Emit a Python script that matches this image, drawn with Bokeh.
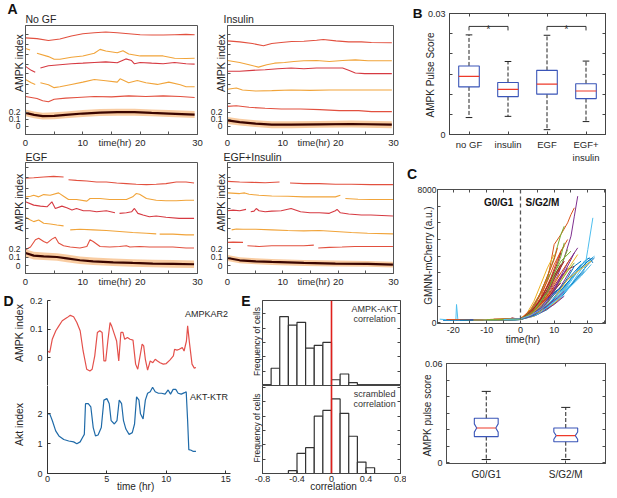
import numpy as np
from bokeh.plotting import figure
from bokeh.layouts import row, column
from bokeh.models import Range1d, LinearAxis, FixedTicker, Label, Span
from bokeh.core.properties import value
from bokeh.embed import file_html
from bokeh.resources import INLINE

nan = float("nan")
FONT = "Liberation Sans"
TXT = "#262626"

# ---------------- Panel A data (time in hr, displayed AMPK index incl. offset) -------------
NOGF_T = [
    [0, 2, 4, 6, 8, 10, 12, 14, 16, 18, 20, 22, 24, 26, 28, 29.5],
    [0, 0.8, 1.3, 2, 4, 5, 6, 8, 10, 12, 13, 14, 16, 17, 18, 20, 22, 24, 26, 28, 29.5],
    [0, 1, 1.7, 2.0, 2.6, 4, 6, 8, 10, 12, 14, 16, 17.5, 18.5, 19, 20, 22, 24, 26, 28, 29.5],
    [0, 1, 1.7, 2.0, 2.6, 4, 5, 6, 8, 10, 12, 14, 16, 16.5, 18, 19.5, 21, 23, 25, 27, 28, 29.5],
    [0, 2, 3, 4, 5, 7, 9, 12, 15, 18, 21, 24, 27, 29.5],
]
NOGF_V = [
    [1.280, 1.270, 1.242, 1.265, 1.308, 1.341, 1.356, 1.365, 1.356, 1.341, 1.327, 1.322, 1.322, 1.327, 1.332, 1.327],
    [1.128, 1.104, nan, 1.057, 1.009, 0.971, 0.971, 1.000, 1.019, 1.057, 1.114, 1.090, 1.066, 1.095, 1.047, 1.019, 1.019, 1.019, 0.986, 0.981, 0.986],
    [0.867, 0.810, 0.781, nan, 0.843, 0.876, 0.891, 0.905, 0.914, 0.924, 0.933, 0.919, 0.976, 0.952, 0.905, 0.924, 0.914, 0.905, 0.924, 0.905, 0.900],
    [0.677, 0.630, 0.606, nan, 0.630, 0.601, 0.559, 0.573, 0.606, 0.639, 0.677, 0.658, 0.639, 0.687, 0.630, 0.663, 0.630, 0.606, 0.639, 0.601, 0.573, 0.573],
    [0.430, 0.402, 0.369, 0.354, 0.392, 0.407, 0.416, 0.430, 0.426, 0.440, 0.430, 0.440, 0.430, 0.416],
]
NOGF_MT = [0, 1.5, 3, 5, 7, 10, 13, 16, 19, 22, 25, 29.5]
NOGF_MV = [0.193, 0.165, 0.146, 0.151, 0.165, 0.184, 0.198, 0.203, 0.203, 0.193, 0.184, 0.169]

INS_T = [
    [0, 2.2, 4.5, 6.5, 8, 9.7, 11.6, 13.8, 16.1, 17.3, 19.6, 21.9, 24.2, 26, 29.7],
    [0, 2.2, 3.9, 5.6, 7.1, 8.5, 10.3, 12.0, 13.8, 16.1, 18.4, 20.8, 23.1, 25.4, 29.7],
    [0, 2.2, 4.5, 6.8, 9.1, 11.5, 13.8, 16.1, 18.4, 20.8, 21.9, 23.1, 24.8, 26, 29.7],
    [0, 1.6, 2.7, 5.1, 8, 11.5, 14.9, 18.4, 21.9, 26, 29.7],
    [0, 1.6, 3.9, 6.8, 9.7, 13.2, 16.7, 20.2, 23.7, 26, 29.7],
]
INS_V = [
    [1.237, 1.223, 1.199, 1.166, 1.199, 1.213, 1.228, 1.232, 1.246, 1.256, 1.237, 1.223, 1.223, 1.213, 1.209],
    [0.952, 0.924, 0.891, 0.857, 0.891, 0.914, 0.924, 0.938, 0.948, 0.952, 0.938, 0.952, 0.962, 0.948, 0.948],
    [0.796, 0.796, 0.810, 0.819, 0.834, 0.843, 0.834, 0.843, 0.843, 0.843, 0.810, 0.772, 0.762, 0.762, 0.762],
    [0.535, 0.554, 0.525, 0.511, 0.516, 0.525, 0.520, 0.525, 0.525, 0.525, 0.525],
    [0.288, 0.297, 0.274, 0.260, 0.250, 0.250, 0.241, 0.226, 0.226, 0.212, 0.212],
]
INS_MT = [0, 2.2, 5.1, 8, 11.5, 16.6, 22.4, 29.7]
INS_MV = [0.084, 0.060, 0.037, 0.022, 0.022, 0.027, 0.032, 0.022]

EGF_T = [
    [0, 1.44, 3.17, 4.9, 6.64, 7.0, 7.5, 8.9, 10.7, 12.4, 14.1, 15.9, 17.6, 19.3, 21.1, 22.8, 24.5, 26.3, 28, 29.4],
    [0, 0.87, 1.44, 2.3, 3.17, 4.3, 5.77, 6.64, 7.5, 8.9, 10.7, 11.25, 13, 14.7, 16.4, 17.6, 18.7, 19.3, 19.9, 21.1, 22.8, 24.5, 26.3, 28, 29.4],
    [0, 1.44, 2.6, 3.75, 4.6, 5.2, 6.35, 7.2, 8.1, 8.9, 10.1, 11.25, 12.4, 14.1, 15.6, 16.0, 16.4, 17.6, 18.5, 19.0, 19.6, 20.5, 21.6, 22.8, 24.5, 26.8, 29.4],
    [0, 0.87, 1.44, 2.3, 3.17, 4.33, 5.48, 6.64, 7.2, 7.8, 9.5, 11.8, 14.1, 16.4, 18.7, 21.1, 22.8, 23.2, 23.4, 25.7, 28.0, 29.4],
    [0, 0.87, 1.73, 2.3, 3.17, 3.75, 4.6, 5.2, 5.77, 6.64, 7.8, 9.5, 10.7, 11.25, 11.8, 13.0, 14.7, 16.4, 17.6, 18.2, 19.9, 21.6, 23.4, 25.7, 28.0, 29.4],
]
EGF_V = [
    [1.039, 1.043, 1.051, 1.059, 1.051, nan, 1.020, 1.012, 1.004, 0.992, 0.992, 0.980, 0.973, 0.965, 0.961, 0.965, 0.973, 0.992, 0.992, 0.980],
    [0.816, 0.824, 0.835, 0.816, 0.843, 0.835, 0.863, 0.824, 0.784, 0.784, 0.765, 0.796, 0.796, 0.784, 0.784, 0.784, 0.816, 0.855, 0.847, 0.796, 0.776, 0.769, 0.769, 0.776, 0.776],
    [0.757, 0.718, 0.706, 0.698, 0.757, 0.678, 0.706, 0.686, 0.659, 0.678, 0.651, 0.651, 0.639, 0.651, 0.627, nan, 0.620, 0.627, 0.639, 0.678, 0.620, 0.600, 0.580, 0.588, 0.573, 0.561, 0.561],
    [0.573, 0.541, 0.522, 0.541, 0.502, 0.494, 0.482, 0.471, nan, 0.424, 0.431, 0.424, 0.416, 0.404, 0.392, 0.384, 0.376, nan, 0.373, 0.373, 0.365, 0.365],
    [0.188, 0.220, 0.306, 0.325, 0.286, 0.267, 0.314, 0.337, 0.267, 0.235, 0.220, 0.208, 0.227, 0.306, 0.286, 0.227, 0.220, 0.227, 0.235, 0.220, 0.227, 0.220, 0.220, 0.220, 0.208, 0.208],
]
EGF_MT = [0, 1.44, 3.17, 5.48, 7.2, 9.5, 11.8, 15.3, 18.7, 22.2, 25.7, 29.4]
EGF_MV = [0.149, 0.118, 0.110, 0.102, 0.086, 0.063, 0.051, 0.039, 0.031, 0.024, 0.020, 0.016]

EGFI_T = [
    [0, 2.2, 4.5, 6.8, 9.4, 9.9, 11.3, 13.8, 16.6, 19.5, 22.4, 25.9, 29.9],
    [0, 2.2, 3.1, 3.9, 5.7, 8.0, 10.9, 13.8, 16.6, 19.5, 20.4, 20.8, 21.3, 23.6, 25.9, 29.9],
    [0, 1.0, 2.2, 3.35, 3.8, 4.2, 4.8, 5.2, 5.7, 6.8, 8.0, 9.7, 11.5, 12.0, 13.2, 14.9, 16.6, 18.4, 19.5, 19.8, 20.4, 21.9, 24.2, 25.9, 29.9],
    [0.75, 1.6, 2.8, 5.1, 8.0, 10.9, 13.8, 16.6, 19.5, 22.4, 25.3, 29.9],
    [0, 1.0, 2.8, 3.3, 3.6, 5.7, 8.0, 10.9, 13.8, 15.6, 16.1, 16.4, 18.4, 20.7, 23.0, 25.3, 29.9],
]
EGFI_V = [
    [1.000, 0.992, 0.988, 0.984, 0.992, nan, 0.980, 0.973, 0.973, 0.965, 0.965, 0.961, 0.961],
    [0.863, 0.855, 0.863, 0.847, 0.835, 0.827, 0.824, 0.816, 0.816, 0.816, 0.835, nan, 0.796, 0.788, 0.784, 0.784],
    [0.651, 0.659, 0.651, 0.667, nan, 0.639, 0.647, 0.678, 0.651, 0.639, 0.647, 0.651, 0.678, 0.667, 0.639, 0.627, 0.627, 0.620, 0.651, 0.667, 0.627, 0.612, 0.600, 0.600, 0.588],
    [0.424, 0.435, 0.431, 0.431, 0.424, 0.416, 0.412, 0.416, 0.404, 0.392, 0.384, 0.376],
    [0.275, 0.278, 0.275, nan, 0.235, 0.227, 0.235, 0.235, 0.235, 0.243, nan, 0.208, 0.216, 0.220, 0.227, 0.227, 0.227],
]
EGFI_MT = [0, 2.2, 5.1, 8.0, 13.8, 19.5, 25.3, 29.9]
EGFI_MV = [0.090, 0.063, 0.051, 0.043, 0.031, 0.024, 0.020, 0.012]

A_TITLES = ["No GF", "Insulin", "EGF", "EGF+Insulin"]
A_BAND = [0.05, 0.05, 0.045, 0.035]
A_XTICKS = [0, 10, 20, 30]
A_YTICKS = [0, 0.1, 0.2]

# ---------------- Panel B data ----------------
B_CATS = ["no GF", "insulin", "EGF", "EGF+\ninsulin"]
B_POS = [1, 2, 3, 4]
B_WLO = [0.0042, 0.0045, 0.0012, 0.0032]
B_Q1 = [0.0118, 0.0094, 0.0100, 0.0089]
B_MED = [0.0144, 0.0112, 0.0125, 0.0108]
B_Q3 = [0.0170, 0.0129, 0.0159, 0.0126]
B_WHI = [0.0247, 0.0181, 0.0246, 0.0182]
B_SIG_A = [1, 3]
B_SIG_B = [2, 4]
B_SIG_Y = [0.0268, 0.0268]

# ---------------- Panel C data ----------------
C_T = [
    [-23, -16, -8, -2, 0, 3, 6, 9, 12, 15, 18, 20, 22],
    [-18, -9, 0, 2, 4, 6, 8, 9, 10, 12, 14, 15, 16],
    [-10, -4, 0, 3, 6, 9, 12, 14],
    [-12, -5, 0, 3, 6, 9, 11, 13, 15, 16, 17],
    [-8, 0, 2, 4, 6, 8, 10, 11, 12, 13],
    [-24, -20, -19.2, -19, -18.6, -15, -10, -5, 0, 4, 8, 12, 16, 19, 20, 21.5],
    [-6, 0, 3, 6, 9, 12, 14, 16],
    [-15, -7, 0, 4, 8, 12, 16, 19, 20.5, 21.5],
    [-5, 0, 2, 4, 6, 8, 10, 12, 13],
    [-3, 0, 3, 6, 9, 11],
    [-9, 0, 4, 8, 12, 15],
    [-14, -6, 0, 3, 6, 9, 12, 14],
    [-10, 0, 4, 8, 12, 16, 18, 20, 22],
    [-4, 0, 4, 8, 11, 14],
    [-7, 0, 3, 6, 10, 14, 18],
    [-16, -8, 0, 3, 6, 9, 11, 12, 14],
    [-2, 0, 3, 6, 9, 12],
    [-11, 0, 4, 8, 11, 14, 17],
    [-6, 0, 3, 6, 9, 12, 15],
    [-1, 0, 4, 8, 12, 15, 18, 20],
    [-13, 0, 3, 6, 9, 11, 13],
    [-9, 0, 4, 8, 12, 16, 19],
    [-3, 0, 3, 6, 9, 12],
    [-7, 0, 4, 8, 12],
    [-5, 0, 5, 10, 13],
    [-2, 0, 4, 8, 11, 14, 16],
    [-20, -10, 0, 3, 8, 13, 18, 21],
    [-8, 0, 3, 6, 9, 11, 12],
    [-5, 0, 2, 5, 8, 11],
    [-12, 0, 2, 5, 8, 10],
    [-4, 0, 3, 6, 9, 12, 15, 17],
    [-6, 0, 3, 6, 9, 13, 16],
    [-17, 0, 4, 7, 10, 12],
    [-3, 0, 5, 10, 15, 18, 21],
    [-8, -3, -2.5, -1, 0, 4, 8, 12],
    [-21, 0, 5, 9, 13, 17, 20, 21.5],
    [-22, -12, 0, 3, 6, 9, 12, 15],
    [-9, 0, 2, 4, 6, 8, 10],
    [-15, 0, 4, 7, 10, 12, 14],
    [-6, 0, 3, 5, 7, 9],
    [-11, 0, 5, 9, 13, 16, 18],
    [-3, 0, 2, 5, 8, 10, 12],
    [-18, 0, 4, 8, 11, 14, 16, 18],
    [-7, 0, 3, 6, 8, 10, 11],
    [-14, 0, 6, 10, 14, 19, 21],
    [-2, 0, 3, 7, 11, 13],
    [-10, 0, 4, 8, 10, 12, 13],
    [-5, 0, 3, 6, 9, 12, 14],
]
C_V = [
    [150, 140, 170, 160, 200, 380, 700, 1100, 1600, 2300, 3000, 3500, 3900],
    [180, 200, 220, 400, 800, 1500, 2600, 3600, 4700, 5300, 6000, 6500, 6900],
    [150, 170, 200, 450, 800, 1200, 1800, 2200],
    [160, 190, 230, 550, 1200, 2100, 2800, 3900, 5200, 6400, 7600],
    [200, 250, 500, 1000, 1800, 2800, 3900, 4600, 5300, 5800],
    [220, 160, 150, 1100, 180, 170, 180, 160, 200, 450, 900, 1600, 2500, 3200, 4400, 6300],
    [200, 240, 550, 1100, 1900, 2800, 3200, 3400],
    [150, 180, 200, 550, 1100, 1900, 2900, 3700, 3900, 3600],
    [180, 220, 500, 1000, 1700, 2500, 3500, 4300, 4600],
    [200, 220, 550, 1100, 1800, 2200],
    [170, 200, 500, 1200, 2200, 3200],
    [160, 180, 210, 600, 1300, 2300, 3400, 4400],
    [170, 220, 500, 1000, 1800, 2900, 3500, 3700, 4000],
    [200, 230, 550, 1100, 1700, 2300],
    [190, 240, 450, 900, 1700, 2600, 3500],
    [170, 190, 220, 600, 1400, 2700, 3800, 4300, 5000],
    [200, 230, 650, 1300, 2200, 3000],
    [170, 210, 600, 1400, 2400, 3600, 4500],
    [200, 240, 600, 1400, 2600, 3700, 4300],
    [200, 220, 450, 900, 1600, 2500, 3400, 3900],
    [170, 210, 550, 1200, 2200, 3000, 3700],
    [160, 200, 400, 800, 1500, 2500, 3100],
    [220, 250, 700, 1500, 2500, 3400],
    [180, 220, 400, 850, 1500],
    [190, 230, 500, 1100, 1600],
    [210, 230, 500, 1200, 2200, 3100, 3600],
    [160, 170, 200, 450, 950, 1800, 2800, 3500],
    [190, 220, 600, 1400, 2600, 3600, 4200],
    [200, 220, 380, 800, 1400, 2000],
    [180, 220, 450, 950, 1600, 2100],
    [200, 230, 500, 1000, 1700, 2600, 3500, 4100],
    [190, 220, 400, 900, 1700, 3000, 4200],
    [160, 200, 700, 1600, 2800, 3500],
    [200, 220, 600, 1300, 2300, 3200, 3800],
    [220, 240, 300, 230, 240, 700, 1500, 2400],
    [170, 210, 600, 1200, 2200, 3100, 3700, 3900],
    [200, 180, 230, 500, 1100, 2000, 3000, 3900],
    [210, 240, 600, 1300, 2300, 3300, 4100],
    [180, 200, 500, 1000, 1900, 2700, 3300],
    [200, 230, 700, 1400, 2300, 3000],
    [170, 210, 500, 1100, 2000, 2900, 3300],
    [210, 240, 500, 1100, 2000, 2800, 3500],
    [160, 200, 450, 1000, 1800, 2700, 3400, 3700],
    [190, 220, 800, 1800, 2800, 3800, 4500],
    [170, 200, 700, 1500, 2600, 3400, 3700],
    [210, 230, 400, 900, 1500, 1900],
    [180, 210, 700, 1800, 2900, 4000, 4800],
    [200, 240, 450, 800, 1300, 1900, 2300],
]
C_PHASES = ["G0/G1", "S/G2/M"]
C_XTICKS = [-20, -10, 0, 10, 20]

CB_CATS = ["G0/G1", "S/G2/M"]
CB_POS = [1, 2]
CB_WLO = [0.0018, 0.0018]
CB_Q1 = [0.0157, 0.0126]
CB_MED = [0.0209, 0.0163]
CB_Q3 = [0.0268, 0.0209]
CB_WHI = [0.0431, 0.0334]
CB_NOTCH = [0.0025, 0.0022]

# ---------------- Panel D data ----------------
AMPK_T = [0, 0.19, 0.4, 0.7, 0.96, 1.24, 1.65, 1.92, 2.2, 2.47, 2.75, 3.0, 3.3, 3.57, 3.76, 3.98, 4.2, 4.4, 4.6, 4.75,
          4.9, 5.08, 5.27, 5.4, 5.63, 5.82, 6.0, 6.18, 6.35, 6.5, 6.73, 6.95, 7.2, 7.42, 7.6, 7.77, 7.97, 8.1, 8.24, 8.43,
          8.65, 8.87, 9.07, 9.26, 9.48, 9.75, 10.0, 10.3, 10.6, 10.7, 10.9, 11.1, 11.35, 11.5, 11.7, 11.8, 11.95, 12.17, 12.36, 12.5]
AMPK_V = [0.023, 0.018, 0.064, 0.094, 0.111, 0.129, 0.140, 0.148, 0.143, 0.123, 0.094, 0.023, -0.041, -0.047, -0.041, 0.006, 0.088, 0.094, 0.088, -0.012,
          -0.012, 0.058, 0.123, 0.111, 0.082, 0.058, -0.012, 0.088, 0.088, 0.064, 0.070, 0.064, 0.061, -0.023, -0.041, 0.000, 0.047, 0.041, -0.006, -0.044,
          -0.012, -0.018, -0.006, -0.012, -0.018, -0.023, -0.021, -0.009, 0.006, 0.029, 0.026, 0.029, 0.035, 0.023, 0.058, 0.111, 0.053, -0.023, -0.037, -0.035]
AKT_T = [0, 0.19, 0.41, 0.69, 0.96, 1.37, 1.79, 2.2, 2.47, 2.75, 2.94, 3.1, 3.2, 3.43, 3.65, 3.85, 4.04, 4.26, 4.53, 4.75,
         5.0, 5.2, 5.36, 5.63, 5.85, 6.04, 6.24, 6.4, 6.6, 6.87, 7.14, 7.33, 7.5, 7.7, 7.83, 8.05, 8.24, 8.43, 8.65, 8.85,
         9.07, 9.34, 9.6, 9.9, 10.16, 10.36, 10.58, 10.8, 11.0, 11.26, 11.54, 11.68, 11.8, 11.9, 12.1, 12.28, 12.5]
AKT_V = [2.0, 2.0, 1.77, 1.43, 1.26, 1.14, 1.09, 1.06, 1.0, 1.06, 1.2, 1.31, 2.34, 2.34, 2.23, 1.54, 1.26, 1.29, 1.54, 2.46,
         2.51, 2.34, 1.77, 1.66, 1.77, 2.46, 2.34, 1.77, 1.49, 1.31, 1.37, 1.66, 2.57, 2.46, 2.0, 1.83, 2.46, 2.69, 2.74, 2.89,
         2.74, 2.69, 2.69, 2.66, 2.8, 2.66, 2.82, 2.82, 2.69, 2.66, 2.71, 2.74, 1.77, 0.8, 0.78, 0.74, 0.74]

# ---------------- Panel E data ----------------
E1_EDGES = [-0.7, -0.6, -0.5, -0.4, -0.3, -0.2, -0.1, 0.0, 0.1, 0.2, 0.3]
E1_COUNTS = [6, 24, 21, 22, 13, 14, 15, 2, 4, 1]
E2_EDGES = [-0.5, -0.4, -0.3, -0.2, -0.1, 0.0, 0.1, 0.2, 0.3, 0.4, 0.5]
E2_COUNTS = [1, 7, 9, 20, 22, 26, 21, 13, 4, 2]
E_XTICKS = [-0.8, -0.4, 0, 0.4, 0.8]
E_XLABELS = ["-0.8", "-0.4", "0", "0.4", "0.8"]


# ---------------- helpers ----------------
def make(w, h, l, r, t, b, xr, yr, outline=None):
    p = figure(width=w, height=h, x_range=Range1d(*xr), y_range=Range1d(*yr),
               min_border_left=l, min_border_right=r, min_border_top=t, min_border_bottom=b,
               x_axis_location=None, y_axis_location=None, toolbar_location=None, tools="",
               output_backend="svg")
    p.xgrid.visible = False
    p.ygrid.visible = False
    p.outline_line_color = outline
    p.outline_line_width = 1
    p.background_fill_color = "white"
    p.border_fill_color = "white"
    return p


def strip(w, h):
    p = figure(width=w, height=h, x_range=Range1d(0, w), y_range=Range1d(h, 0), min_border=0,
               x_axis_location=None, y_axis_location=None, toolbar_location=None, tools="",
               output_backend="svg")
    p.xgrid.visible = False
    p.ygrid.visible = False
    p.outline_line_color = None
    p.background_fill_color = "white"
    p.border_fill_color = "white"
    return p


def axis(p, loc, ticks=(), labels=None, minor=(), size="9px", standoff=0, color="#444444",
         marks=True, line=True, orient=None, bold=False):
    ax = LinearAxis(ticker=FixedTicker(ticks=list(ticks), minor_ticks=list(minor)))
    ax.major_tick_in = 3 if marks else 0
    ax.major_tick_out = 0
    ax.major_tick_line_color = color if marks else None
    ax.minor_tick_in = 3
    ax.minor_tick_out = 0
    ax.minor_tick_line_color = color
    ax.axis_line_color = color if line else None
    ax.major_label_standoff = standoff
    ax.major_label_text_font = FONT
    ax.major_label_text_font_size = size
    ax.major_label_text_color = "#111111" if bold else TXT
    if bold:
        ax.major_label_text_font_style = "bold"
    if orient:
        ax.major_label_orientation = orient
    if labels is not None:
        ax.major_label_overrides = dict(zip(ticks, labels))
    p.add_layout(ax, loc)
    return ax


def slab(p, x, y, text, size="10px", bold=False, baseline="bottom"):
    p.add_layout(Label(x=x, y=y, text=text, text_font=FONT, text_font_size=size, text_align="left",
                       text_baseline=baseline, text_color="#111111" if bold else TXT,
                       text_font_style="bold" if bold else "normal"))


def dlab(p, x, y, text, size="9px", align="left", bold=False, color=TXT):
    p.add_layout(Label(x=x, y=y, text=text, text_font=FONT, text_font_size=size, text_align=align,
                       text_baseline="alphabetic", text_font_style="bold" if bold else "normal",
                       text_color=color))


RED1 = "#e2503f"
RED2 = "#d63a42"
ORANGE = "#f1a43a"
FRAME = "#555555"


def panel_a(idx, T, V, MT, MV, w, l, r, h, t, b, yr, marks, ylab_v):
    p = make(w, h, l, r, t, b, (0, 30), yr, outline=FRAME)
    axis(p, "left", [ylab_v], ["AMPK index"], minor=A_YTICKS + marks, size="10.5px", standoff=0,
         color=FRAME, marks=False, orient="parallel")
    axis(p, "left", A_YTICKS, ["0", "0.1", "0.2"], size="8.5px", standoff=-10, marks=False, line=False)
    axis(p, "below", [0, 10, 15.6, 20, 30], ["0", "10", "time(hr)", "20", "30"],
         minor=[0, 5, 10, 15, 20, 25, 30], size="9.5px", standoff=2, color=FRAME, marks=False)
    mt = np.array(MT, float)
    mv = np.array(MV, float)
    band = A_BAND[idx]
    p.varea(x=mt, y1=mv - band, y2=mv + band, fill_color="#f8bf8a", fill_alpha=0.8)
    for tt, vv, c in zip(T, V, [RED1, ORANGE, RED2, ORANGE, RED1]):
        p.line(np.array(tt, float), np.array(vv, float), line_color=c, line_width=1.1)
    p.line(mt, mv, line_color="#3a0500", line_width=2.2)
    return p


TOP_MARKS = [0.33, 0.47, 0.61, 0.76, 0.9, 1.04, 1.19, 1.33]
BOT_MARKS = [0.32, 0.44, 0.56, 0.68, 0.80, 0.92, 1.04, 1.16]

# strips with panel titles / letters
S1 = strip(406, 24)
slab(S1, 7, 0.5, "A", size="14px", bold=True, baseline="top")
slab(S1, 25, 24, A_TITLES[0], size="10.5px")
slab(S1, 223, 24, A_TITLES[1], size="10.5px")
S2 = strip(406, 12)
slab(S2, 25, 12, A_TITLES[2], size="10.5px")
slab(S2, 223, 12, A_TITLES[3], size="10.5px")

pA1 = panel_a(0, NOGF_T, NOGF_V, NOGF_MT, NOGF_MV, 203, 25, 6, 126, 1, 14, (-0.12, 1.46), TOP_MARKS, 0.915)
pA2 = panel_a(1, INS_T, INS_V, INS_MT, INS_MV, 203, 24, 13, 126, 1, 14, (-0.12, 1.46), TOP_MARKS, 0.915)
pA3 = panel_a(2, EGF_T, EGF_V, EGF_MT, EGF_MV, 203, 25, 6, 127, 0, 15, (-0.094, 1.224), BOT_MARKS, 0.747)
pA4 = panel_a(3, EGFI_T, EGFI_V, EGFI_MT, EGFI_MV, 203, 24, 13, 127, 0, 15, (-0.094, 1.224), BOT_MARKS, 0.747)

# ---------------- Panel D ----------------
DAX = "#333333"
pD1 = make(238, 96, 42, 8, 11, 0, (0, 15.41), (-0.098, 0.2))
axis(pD1, "left", [0, 0.1, 0.2], ["0", "0.1", "0.2"], size="9px", standoff=5, color=DAX)
axis(pD1, "left", [0.086], ["AMPK index"], size="10.5px", standoff=1, marks=False, line=False, orient="parallel")
axis(pD1, "left", [0.2], ["D"], size="14px", standoff=-3, marks=False, line=False, bold=True)
axis(pD1, "below", [], None, color=DAX)
pD1.line(AMPK_T, AMPK_V, line_color="#e4504b", line_width=1.2)
dlab(pD1, 15.2, 0.154, "AMPKAR2", size="9px", align="right")

pD2 = make(238, 113, 42, 8, 0, 25, (0, 15.41), (0, 2.95))
axis(pD2, "left", [0, 1, 2], ["0", "1", "2"], size="9px", standoff=5, color=DAX)
axis(pD2, "left", [1.643], ["Akt index"], size="10.5px", standoff=9, marks=False, line=False, orient="parallel")
axis(pD2, "below", [0, 5, 10, 15], ["0", "5", "10", "15"], size="9px", standoff=2, color=DAX)
axis(pD2, "below", [7.42], ["time (hr)"], size="10px", standoff=-4, marks=False, line=False)
pD2.line(AKT_T, AKT_V, line_color="#1f6aa8", line_width=1.2)
dlab(pD2, 15.2, 2.548, "AKT-KTR", size="9px", align="right")

# ---------------- Panel E ----------------
EAX = "#444444"
pE1 = make(168, 96, 20, 6, 11, 0, (-0.8, 0.8), (0, 29.6), outline=EAX)
axis(pE1, "left", [15.3], ["Frequency of cells"], minor=[5, 10, 15, 20, 25], size="8.5px", standoff=0,
     color=EAX, marks=False, orient="parallel")
axis(pE1, "left", [29.6], ["E"], size="14px", standoff=-1, marks=False, line=False, bold=True)
axis(pE1, "right", [], None, minor=[5, 10, 15, 20, 25], color=EAX)
pE1.quad(left=E1_EDGES[:-1], right=E1_EDGES[1:], bottom=0, top=E1_COUNTS, fill_color="white",
         line_color="#333333", line_width=1.2)
pE1.add_layout(Span(location=0, dimension="height", line_color="#e0201c", line_width=1.6))
dlab(pE1, 0.5, 26.5, "AMPK-AKT", size="9px", align="center", color="#333333")
dlab(pE1, 0.5, 23.2, "correlation", size="9px", align="center", color="#333333")

pE2 = make(168, 113, 20, 6, 0, 25, (-0.8, 0.8), (0, 30.7), outline=EAX)
axis(pE2, "left", [15.9], ["Frequency of cells"], minor=[5, 10, 15, 20, 25, 30], size="8.5px", standoff=0,
     color=EAX, marks=False, orient="parallel")
axis(pE2, "right", [], None, minor=[5, 10, 15, 20, 25, 30], color=EAX)
axis(pE2, "below", E_XTICKS, E_XLABELS, size="9px", standoff=2, color=EAX)
axis(pE2, "below", [0.023], ["correlation"], size="10px", standoff=-4, marks=False, line=False)
pE2.quad(left=E2_EDGES[:-1], right=E2_EDGES[1:], bottom=0, top=E2_COUNTS, fill_color="white",
         line_color="#333333", line_width=1.2)
pE2.add_layout(Span(location=0, dimension="height", line_color="#e0201c", line_width=1.6))
dlab(pE2, 0.5, 27.9, "scrambled", size="9px", align="center", color="#333333")
dlab(pE2, 0.5, 24.1, "correlation", size="9px", align="center", color="#333333")

# ---------------- Panel B ----------------
BAX = "#444444"
BLUE = "#3a55b8"
MEDRED = "#ee3a2a"
pB = make(211, 165, 43, 12, 13, 28, (0.5, 4.5), (0, 0.03), outline=BAX)
B_MARKS = [0.005, 0.01, 0.015, 0.02, 0.025]
axis(pB, "left", [0, 0.03], ["0", "0.03"], minor=B_MARKS, size="9px", standoff=4, color=BAX)
axis(pB, "left", [0.01476], ["AMPK Pulse Score"], size="10px", standoff=-12, marks=False, line=False,
     orient="parallel")
axis(pB, "left", [0.03], ["B"], size="13.5px", standoff=0, marks=False, line=False, bold=True)
axis(pB, "right", [], None, minor=[0] + B_MARKS + [0.03], color=BAX)
axis(pB, "below", B_POS, B_CATS, size="9.5px", standoff=4, color=BAX)
axis(pB, "above", [], None, minor=B_POS, color=BAX)
bpos = np.array(B_POS, float)
pB.segment(x0=bpos, y0=B_Q3, x1=bpos, y1=B_WHI, line_color="#222222", line_dash="4 2", line_width=1)
pB.segment(x0=bpos, y0=B_Q1, x1=bpos, y1=B_WLO, line_color="#222222", line_dash="4 2", line_width=1)
pB.segment(x0=bpos - 0.085, y0=B_WHI, x1=bpos + 0.085, y1=B_WHI, line_color="#222222", line_width=1)
pB.segment(x0=bpos - 0.085, y0=B_WLO, x1=bpos + 0.085, y1=B_WLO, line_color="#222222", line_width=1)
pB.quad(left=bpos - 0.264, right=bpos + 0.264, bottom=B_Q1, top=B_Q3, fill_color=None, line_color=BLUE, line_width=1.1)
pB.segment(x0=bpos - 0.264, y0=B_MED, x1=bpos + 0.264, y1=B_MED, line_color=MEDRED, line_width=1.1)
sx = [[a, a, b, b] for a, b in zip(B_SIG_A, B_SIG_B)]
sy = [[y - 0.001, y, y, y - 0.001] for y in B_SIG_Y]
pB.multi_line(xs=sx, ys=sy, line_color="#333333", line_width=1)
pB.text(x=[(a + b) / 2 for a, b in zip(B_SIG_A, B_SIG_B)], y=[y - 0.0006 for y in B_SIG_Y], text=["*", "*"],
        text_font=value(FONT), text_font_size="11px", text_align="center", text_baseline="alphabetic",
        text_color="#333333")

SC = strip(211, 17)
slab(SC, 0.5, 0, "C", size="14px", bold=True, baseline="top")

# ---------------- Panel C (traces) ----------------
CAX = "#4d4d4d"
MCOL = ["#0072BD", "#D95319", "#EDB120", "#7E2F8E", "#77AC30", "#4DBEEE", "#A2142F"]
pC1 = make(211, 166, 31, 12, 7, 25, (-24.65, 25.25), (-40, 8000), outline=CAX)
C_YMARKS = list(range(1000, 8000, 1000))
axis(pC1, "left", [0, 8000], ["0", "8000"], minor=C_YMARKS, size="8.5px", standoff=1, color=CAX)
axis(pC1, "left", [4040], ["GMNN-mCherry (a.u.)"], size="10px", standoff=-19, marks=False, line=False,
     orient="parallel")
axis(pC1, "right", [], None, minor=[0] + C_YMARKS + [8000], color=CAX)
axis(pC1, "below", C_XTICKS, [str(v) for v in C_XTICKS], minor=[-15, -5, 5, 15, 25], size="9px",
     standoff=3, color=CAX)
axis(pC1, "below", [0.74], ["time(hr)"], size="10px", standoff=-2, marks=False, line=False)
axis(pC1, "above", [], None, minor=[-20, -15, -10, -5, 0, 5, 10, 15, 20, 25], color=CAX)
for i, (tt, vv) in enumerate(zip(C_T, C_V)):
    pC1.line(tt, vv, line_color=MCOL[i % 7], line_width=1.0)
pC1.add_layout(Span(location=0, dimension="height", line_color="#555555", line_dash="4 3", line_width=1.3))
dlab(pC1, -2.1, 7220, C_PHASES[0], size="10px", bold=True, align="right", color="#111111")
dlab(pC1, 1.5, 7220, C_PHASES[1], size="10px", bold=True, align="left", color="#111111")

# ---------------- Panel C (box) ----------------
pC2 = make(211, 150, 40, 12, 15, 35, (0.5, 2.5), (-0.0006, 0.06), outline=CAX)
CB_MARKS = [0.01, 0.02, 0.03, 0.04, 0.05]
axis(pC2, "left", [0, 0.06], ["0", "0.06"], minor=CB_MARKS, size="9px", standoff=4, color=CAX)
axis(pC2, "left", [0.0285], ["AMPK pulse score"], size="10px", standoff=-12, marks=False, line=False,
     orient="parallel")
axis(pC2, "right", [], None, minor=[0] + CB_MARKS + [0.06], color=CAX)
axis(pC2, "below", CB_POS, CB_CATS, size="10px", standoff=5, color=CAX)
axis(pC2, "above", [], None, minor=CB_POS, color=CAX)
cpos = np.array(CB_POS, float)
pC2.segment(x0=cpos, y0=CB_Q3, x1=cpos, y1=CB_WHI, line_color="#222222", line_dash="4 2", line_width=1)
pC2.segment(x0=cpos, y0=CB_Q1, x1=cpos, y1=CB_WLO, line_color="#222222", line_dash="4 2", line_width=1)
pC2.segment(x0=cpos - 0.057, y0=CB_WHI, x1=cpos + 0.057, y1=CB_WHI, line_color="#222222", line_width=1)
pC2.segment(x0=cpos - 0.057, y0=CB_WLO, x1=cpos + 0.057, y1=CB_WLO, line_color="#222222", line_width=1)
hw, ni = 0.15, 0.8
pxs, pys = [], []
for x, q1, md, q3, nt in zip(cpos, CB_Q1, CB_MED, CB_Q3, CB_NOTCH):
    pxs.append([x - hw, x + hw, x + hw, x + hw * ni, x + hw, x + hw, x - hw, x - hw, x - hw * ni, x - hw])
    pys.append([q1, q1, md - nt, md, md + nt, q3, q3, md + nt, md, md - nt])
pC2.patches(xs=pxs, ys=pys, fill_color=None, line_color=BLUE, line_width=1.1)
pC2.segment(x0=cpos - hw * ni, y0=CB_MED, x1=cpos + hw * ni, y1=CB_MED, line_color=MEDRED, line_width=1.1)

left = column(row(S1), row(pA1, pA2), row(S2), row(pA3, pA4),
              row(column(pD1, pD2), column(pE1, pE2)))
right = column(row(pB), row(SC), row(pC1), row(pC2))
lay = row(left, right)

open("out.html", "w").write(file_html(lay, INLINE))
